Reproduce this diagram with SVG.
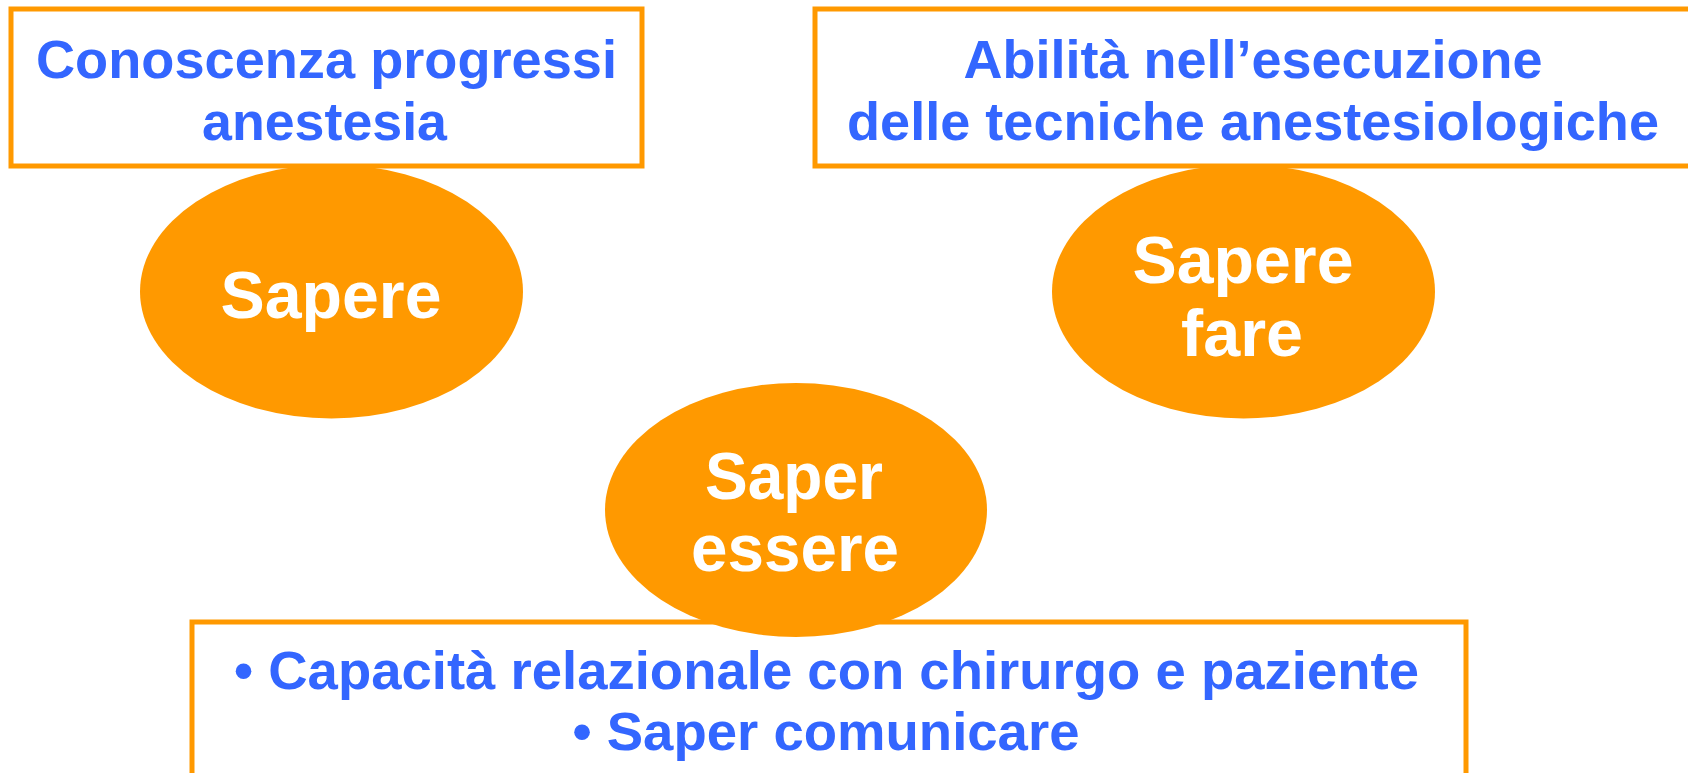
<svg xmlns="http://www.w3.org/2000/svg" width="1688" height="773" viewBox="0 0 1688 773">
<style>
.box{fill:#ffffff;stroke:#FF9900;stroke-width:5}
.ell{fill:#FF9900;stroke:none}
.bt{font-family:"Liberation Sans",Arial,sans-serif;font-weight:bold;font-size:54px;fill:#3366FF;text-anchor:middle}
.et{font-family:"Liberation Sans",Arial,sans-serif;font-weight:bold;font-size:67px;fill:#ffffff;text-anchor:middle}
</style>
<rect width="1688" height="773" fill="#ffffff"/>
<g id="connectors"></g>
<g id="sapere">
<ellipse class="ell" cx="331.5" cy="291.5" rx="191.5" ry="127"/>
<text class="et" x="331" y="318" textLength="221" lengthAdjust="spacingAndGlyphs">Sapere</text>
</g>
<g id="sapere-fare">
<ellipse class="ell" cx="1243.5" cy="291.5" rx="191.5" ry="127"/>
<text class="et" x="1243" y="283" textLength="221" lengthAdjust="spacingAndGlyphs">Sapere</text>
<text class="et" x="1242" y="356" textLength="122" lengthAdjust="spacingAndGlyphs">fare</text>
</g>
<g id="box-conoscenza">
<rect class="box" x="11" y="9" width="631" height="157"/>
<text class="bt" x="326.5" y="78" textLength="581" lengthAdjust="spacingAndGlyphs">Conoscenza progressi</text>
<text class="bt" x="324.5" y="140" textLength="245" lengthAdjust="spacingAndGlyphs">anestesia</text>
</g>
<g id="box-abilita">
<rect class="box" x="815" y="9" width="890" height="157"/>
<text class="bt" x="1253" y="78" textLength="579" lengthAdjust="spacingAndGlyphs">Abilità nell’esecuzione</text>
<text class="bt" x="1253" y="140" textLength="812" lengthAdjust="spacingAndGlyphs">delle tecniche anestesiologiche</text>
</g>
<g id="box-capacita">
<rect class="box" x="192" y="622" width="1274" height="170"/>
<text class="bt" x="826.5" y="689" textLength="1185" lengthAdjust="spacingAndGlyphs">• Capacità relazionale con chirurgo e paziente</text>
<text class="bt" x="826" y="750" textLength="507" lengthAdjust="spacingAndGlyphs">• Saper comunicare</text>
</g>
<g id="saper-essere">
<ellipse class="ell" cx="796" cy="510" rx="191" ry="127"/>
<text class="et" x="794" y="499" textLength="178" lengthAdjust="spacingAndGlyphs">Saper</text>
<text class="et" x="795" y="571" textLength="208" lengthAdjust="spacingAndGlyphs">essere</text>
</g>
</svg>
